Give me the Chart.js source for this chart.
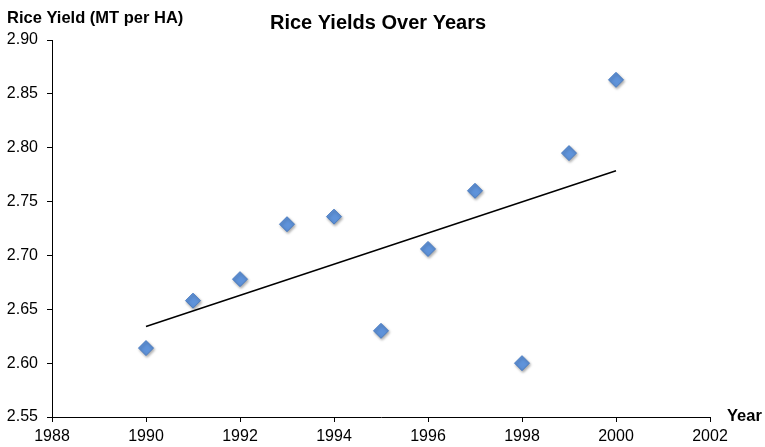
<!DOCTYPE html>
<html>
<head>
<meta charset="utf-8">
<script src="https://cdn.jsdelivr.net/npm/chart.js@4/dist/chart.umd.min.js"></script>
<style>
html,body{margin:0;padding:0;background:#fff}
#wrap{width:765px;height:447px;position:relative}
</style>
</head>
<body>
<div id="wrap"><canvas id="c"></canvas></div>
<script>
const years=[1990,1991,1992,1993,1994,1995,1996,1997,1998,1999,2000]
const yields=[2.614,2.658,2.678,2.729,2.736,2.630,2.706,2.760,2.600,2.795,2.863]
const xTicks=[1988,1990,1992,1994,1996,1998,2000,2002]
const yTicks=[2.55,2.60,2.65,2.70,2.75,2.80,2.85,2.90]

// linear trend (least squares) over the data
const n=years.length
const mx=years.reduce((a,b)=>a+b,0)/n
const my=yields.reduce((a,b)=>a+b,0)/n
let sxy=0,sxx=0
years.forEach((x,i)=>{sxy+=(x-mx)*(yields[i]-my);sxx+=(x-mx)*(x-mx)})
const slope=sxy/sxx
const trend=[years[0],years[n-1]].map(x=>({x,y:my+slope*(x-mx)}))

const font="'Liberation Sans', Arial, sans-serif"

const labels={
id:"labels",
afterDraw(chart){
const ctx=chart.ctx
ctx.save()
ctx.fillStyle="#000"
ctx.textBaseline="alphabetic"
ctx.font="bold 20px "+font
ctx.textAlign="center"
ctx.fillText("Rice Yields Over Years",378,29)
ctx.font="bold 16.5px "+font
ctx.textAlign="left"
ctx.fillText("Rice Yield (MT per HA)",7,23)
ctx.fillText("Year",727,421)
ctx.restore()
}
}

const shadow={
id:"shadow",
beforeDatasetDraw(chart,args){
if(args.index!==1)return
const ctx=chart.ctx
ctx.save()
ctx.shadowColor="rgba(0,0,0,0.35)"
ctx.shadowBlur=3
ctx.shadowOffsetX=1
ctx.shadowOffsetY=1.5
},
afterDatasetDraw(chart,args){
if(args.index!==1)return
chart.ctx.restore()
}
}

new Chart(document.getElementById("c"),{
type:"scatter",
data:{datasets:[
{type:"line",label:"Trend",data:trend,borderColor:"#000",borderWidth:1.5,pointRadius:0,fill:false},
{label:"Rice Yield",data:years.map((x,i)=>({x,y:yields[i]})),pointStyle:"rectRot",pointRadius:7.5,
backgroundColor:"#5f93da",borderColor:"#4a7cc2",borderWidth:1}
]},
options:{
responsive:true,maintainAspectRatio:false,animation:false,
layout:{padding:{top:40,right:55,left:0,bottom:0}},
plugins:{legend:{display:false},tooltip:{enabled:false}},
scales:{
x:{type:"linear",min:1988,max:2002,
afterBuildTicks:s=>{s.ticks=xTicks.map(v=>({value:v}))},
afterFit:s=>{s.height=30},
border:{color:"#000",width:1},
grid:{display:true,drawOnChartArea:false,drawTicks:true,color:"#000",tickColor:"#000",tickWidth:1,tickLength:5},
ticks:{color:"#000",font:{family:font,size:16},padding:5,callback:v=>String(v)}},
y:{type:"linear",min:2.55,max:2.90,
afterBuildTicks:s=>{s.ticks=yTicks.map(v=>({value:v}))},
afterFit:s=>{s.width=52},
border:{color:"#000",width:1},
grid:{display:true,drawOnChartArea:false,drawTicks:true,color:"#000",tickColor:"#000",tickWidth:1,tickLength:5},
ticks:{color:"#000",font:{family:font,size:16},padding:9,callback:v=>Number(v).toFixed(2)}}
}
},
plugins:[shadow,labels]
})
</script>
</body>
</html>
